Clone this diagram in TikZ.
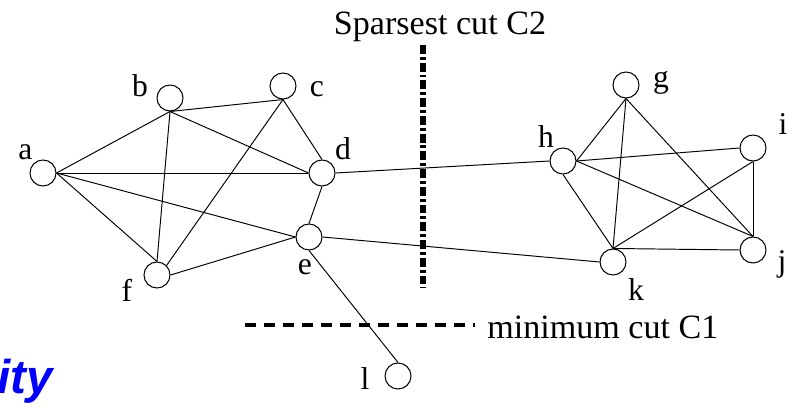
\documentclass[tikz,border=0pt]{standalone}
\usepackage{fontspec}
\setmainfont{Liberation Serif}
\newfontfamily\titlefont{Liberation Sans}

\begin{document}
\begin{tikzpicture}[x=0.02cm, y=-0.02cm,
    vertex/.style={circle, draw, line width=0.6pt, minimum size=0.52cm, inner sep=0pt},
    lbl/.style={anchor=base, inner sep=0pt, font=\fontsize{18}{21}\selectfont},
    caption/.style={inner sep=0pt, font=\fontsize{19.4}{23}\selectfont},
    edge/.style={line width=0.55pt}]

    \useasboundingbox (0,0) rectangle (804,408);

    % Nodi
    \node[vertex] (a) at (43,173) {};
    \node[vertex] (b) at (170,98) {};
    \node[vertex] (c) at (283,86) {};
    \node[vertex] (d) at (322,173) {};
    \node[vertex] (e) at (309,237) {};
    \node[vertex] (f) at (157,275) {};
    \node[vertex] (g) at (626,85) {};
    \node[vertex] (h) at (563,161) {};
    \node[vertex] (i) at (753,148) {};
    \node[vertex] (j) at (753,250) {};
    \node[vertex] (k) at (613,262) {};
    \node[vertex] (l) at (398,376) {};

    % Etichette
    \node[lbl] (la) at (25.5,160) {a};
    \node[lbl] (lb) at (140,97) {b};
    \node[lbl] (lc) at (317,97) {c};
    \node[lbl] (ld) at (343,160) {d};
    \node[lbl] (le) at (305,275) {e};
    \node[lbl] (lf) at (127,301) {f};
    \node[lbl] (lg) at (661,88) {g};
    \node[lbl] (lh) at (546,148) {h};
    \node[lbl] (li) at (783,135) {i};
    \node[lbl] (lj) at (782,272) {j};
    \node[lbl] (lk) at (636,300) {k};
    \node[lbl] (ll) at (365,389) {l};

    % Archi a sinistra
    \draw[edge] (a.east) -- (b.south);
    \draw[edge] (a.east) -- (d.west);
    \draw[edge] (a.east) -- (e.west);
    \draw[edge] (a.east) -- (f.north);
    \draw[edge] (b.south) -- (c.south);
    \draw[edge] (b.south) -- (d.west);
    \draw[edge] (b.south) -- (f.north);
    \draw[edge] (c.south) -- (d.north);
    \draw[edge] (c.south) -- (f.north east);
    \draw[edge] (d.south) -- (e.north);
    \draw[edge] (f.east) -- (e.west);

    % Archi tra i gruppi
    \draw[edge] (d.east) -- (h.west);
    \draw[edge] (e.east) -- (k.west);
    \draw[edge] (e.south) -- (l.north);

    % Archi a destra
    \draw[edge] (g.south) -- (h.east);
    \draw[edge] (g.south) -- (k.north);
    \draw[edge] (g.south) -- (j.north);
    \draw[edge] (h.east) -- (i.west);
    \draw[edge] (h.east) -- (j.north);
    \draw[edge] (h.south) -- (k.north);
    \draw[edge] (i.south) -- (k.north);
    \draw[edge] (i.south) -- (j.north);
    \draw[edge] (k.north) -- (j.west);

    % Tagli
    \coordinate (c2top) at (423,45);
    \coordinate (c2bot) at (423,288);
    \coordinate (c1left) at (245,325);
    \coordinate (c1right) at (475,325);
    \draw[line width=3pt, dash pattern=on 5pt off 1.7pt on 1.7pt off 1.7pt] (c2top) -- (c2bot);
    \draw[line width=2.8pt, dash pattern=on 6.3pt off 4.5pt] (c1left) -- (c1right);
    \node[caption, anchor=base] (c2txt) at (440,35) {Sparsest cut C2};
    \node[caption, anchor=base west] (c1txt) at (487,338) {minimum cut C1};

    % Titolo tagliato
    \node[anchor=base east, inner sep=0pt, text=blue,
          font=\titlefont\bfseries\itshape\fontsize{27}{31}\selectfont] (title) at (53,393) {ity};
\end{tikzpicture}
\end{document}
